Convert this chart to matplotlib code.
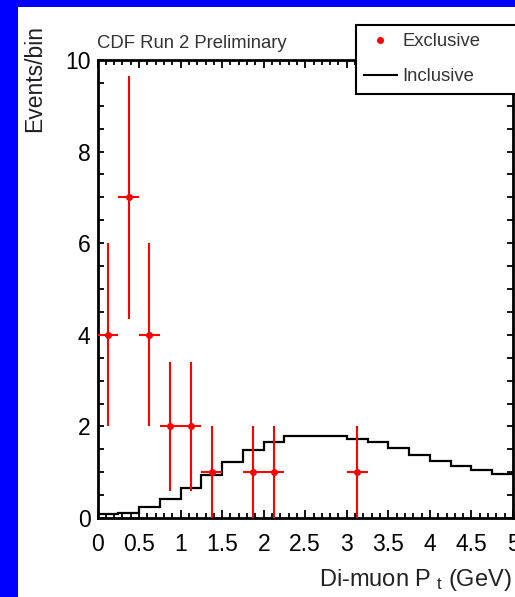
import numpy as np
import matplotlib.pyplot as plt
from matplotlib.lines import Line2D
from matplotlib.patches import Rectangle

plt.rcParams['font.family'] = ['Liberation Sans', 'DejaVu Sans']
plt.rcParams['mathtext.fontset'] = 'custom'
plt.rcParams['mathtext.rm'] = 'Liberation Sans'
plt.rcParams['mathtext.default'] = 'regular'

# inclusive di-muon Pt histogram (bins of 0.25 GeV)
bin_edges = [0.0, 0.25, 0.5, 0.75, 1.0, 1.25, 1.5, 1.75, 2.0, 2.25, 2.5,
             2.75, 3.0, 3.25, 3.5, 3.75, 4.0, 4.25, 4.5, 4.75, 5.0]
inclusive = [0.08, 0.12, 0.23, 0.42, 0.65, 0.94, 1.23, 1.49, 1.66, 1.78,
             1.78, 1.78, 1.73, 1.65, 1.52, 1.37, 1.25, 1.14, 1.05, 0.96]

# exclusive events
excl_x = [0.125, 0.375, 0.625, 0.875, 1.125, 1.375, 1.875, 2.125, 3.125]
excl_y = [4, 7, 4, 2, 2, 1, 1, 1, 1]
excl_yerr = [2.0, 2.65, 2.0, 1.41, 1.41, 1.0, 1.0, 1.0, 1.0]
excl_xerr = 0.125

W, H = 515, 597
fig = plt.figure(figsize=(W / 100, H / 100), dpi=100, facecolor='#0000ff')
fig.patches.append(Rectangle((18 / W, 0), 1, 1 - 7 / H, transform=fig.transFigure,
                             facecolor='white', edgecolor='none', zorder=-1))

ax = fig.add_axes([97.5 / W, 1 - 518 / H, (513 - 97.5) / W, (518 - 60) / H])
ax.set_facecolor('white')

ax.stairs(inclusive, bin_edges, color='black', linewidth=1.6, baseline=None)
ax.errorbar(excl_x, excl_y, yerr=excl_yerr, xerr=excl_xerr, fmt='o', color='#ff0000',
            markersize=4, elinewidth=1.5, capsize=0, zorder=3)

ax.set_xlim(0, 5)
ax.set_ylim(0, 10)
ax.set_xticks([0, 0.5, 1, 1.5, 2, 2.5, 3, 3.5, 4, 4.5, 5])
ax.set_xticklabels(['0', '0.5', '1', '1.5', '2', '2.5', '3', '3.5', '4', '4.5', '5'])
ax.set_xticks(np.arange(0, 5.01, 0.1), minor=True)
ax.set_yticks([0, 2, 4, 6, 8, 10])
ax.set_yticks(np.arange(0, 10.01, 0.5), minor=True)
ax.tick_params(which='both', direction='in', top=True, right=True, width=1.3, labelsize=16.5)
ax.tick_params(axis='x', which='major', length=6, pad=11)
ax.tick_params(axis='x', which='minor', length=3.5)
ax.tick_params(axis='y', which='major', length=4.5, pad=5)
ax.tick_params(axis='y', which='minor', length=4.5)
for s in ax.spines.values():
    s.set_linewidth(2)

fig.text(97 / W, 1 - 48 / H, 'CDF Run 2 Preliminary', fontsize=13.3, color='#333333',
         ha='left', va='baseline')
fig.text(35 / W, 1 - 25 / H, 'Events/bin', fontsize=16.5, color='#222222',
         rotation=90, ha='center', va='top')
fig.text(512 / W, 1 - 586 / H, r'Di-muon P$_{\ t}$ (GeV)', fontsize=17, color='#222222',
         ha='right', va='baseline')

handles = [Line2D([], [], marker='o', linestyle='none', color='#ff0000', markersize=4),
           Line2D([], [], color='black', linewidth=1.5)]
leg = ax.legend(handles, ['Exclusive', 'Inclusive'], loc='upper left', mode='expand',
                bbox_to_anchor=(356 / W, 1 - 94 / H, 200 / W, 69 / H),
                bbox_transform=fig.transFigure, fontsize=13.3, frameon=True, fancybox=False,
                edgecolor='black', framealpha=1, handlelength=1.75, handletextpad=0.3,
                labelspacing=0.97, borderpad=0.45, borderaxespad=0)
leg.get_frame().set_linewidth(1.5)
for t in leg.get_texts():
    t.set_color('#333333')
leg.set_zorder(10)

fig.savefig('out.png', dpi=100, facecolor=fig.get_facecolor())
